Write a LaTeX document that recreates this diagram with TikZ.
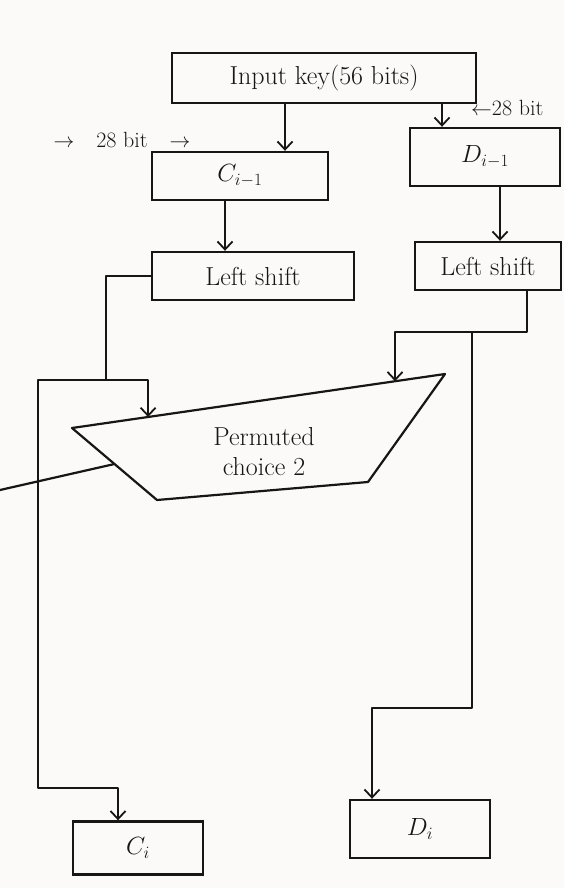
\documentclass[tikz,border=0pt]{standalone}
\usepackage{tikz}
\usetikzlibrary{arrows.meta,positioning,calc}
\definecolor{paper}{HTML}{FCFAF9}
\definecolor{pen}{HTML}{161616}
\tikzset{
  every picture/.append style={font=\fontsize{26}{30}\selectfont},
  kbox/.style  = {draw=pen, line width=2.4pt, inner sep=0pt, text=pen},
  wire/.style  = {draw=pen, line width=2.2pt, line join=round},
  arr/.style   = {wire, -{Straight Barb[length=8pt, width=15pt, line width=1.8pt]}},
  lab/.style   = {font=\fontsize{22}{26}\selectfont, text=pen, inner sep=1pt},
}
\begin{document}
\begin{tikzpicture}[x=1pt, y=-1pt]
  \fill[paper] (0,0) rectangle (564,888);
  \useasboundingbox (0,0) rectangle (564,888);
  % key and its two halves
  \node[kbox, minimum width=304pt, minimum height=50pt] (key)   at (324,78)  {Input key(56 bits)};
  \node[kbox, minimum width=176pt, minimum height=48pt] (cprev) at (240,176) {$C_{i-1}$};
  \node[kbox, minimum width=150pt, minimum height=58pt] (dprev) at (485,157) {$D_{i-1}$};
  \node[kbox, minimum width=202pt, minimum height=48pt] (lshl)  at (253,276) {Left shift};
  \node[kbox, minimum width=146pt, minimum height=48pt] (lshr)  at (488,266) {Left shift};
  \node[kbox, minimum width=130pt, minimum height=53pt] (ci)    at (138,848) {$C_i$};
  \node[kbox, minimum width=140pt, minimum height=58pt] (di)    at (420,829) {$D_i$};
  \node[lab] (bitl) at (122,140) {$\rightarrow$\quad 28 bit\quad$\rightarrow$};
  \node[lab, anchor=west] (bitr) at (470,108) {$\leftarrow$28 bit};
  % permuted choice 2
  \coordinate (pa) at (72,428);
  \coordinate (pb) at (445,374);
  \coordinate (pc) at (368,482);
  \coordinate (pd) at (157,500);
  \draw[wire] (pa) -- (pb) -- (pc) -- (pd) -- cycle;
  \node[text=pen, align=center] (pc2) at (264,452) {Permuted\\choice 2};
  \coordinate (pinl) at ($(pa)!0.204!(pb)$);
  \coordinate (pinr) at ($(pa)!0.866!(pb)$);
  \coordinate (jl) at (106,380);
  \coordinate (jr) at (472,332);
  \coordinate (kout) at (0,490);
  % connectors
  \draw[arr] (key.south -| 285,0) -- (285,0 |- cprev.north);
  \draw[arr] (key.south -| 442,0) -- (442,0 |- dprev.north);
  \draw[arr] (cprev.south -| 225,0) -- (225,0 |- lshl.north);
  \draw[arr] (dprev.south -| 500,0) -- (500,0 |- lshr.north);
  \draw[wire] (lshl.west) -| (jl);
  \draw[arr] (jl) -| (pinl);
  \draw[arr] (jl) -- (38,380) -- (38,788) -| (118,0 |- ci.north);
  \draw[wire] (lshr.south -| 527,0) |- (jr);
  \draw[arr] (jr) -| (pinr);
  \draw[arr] (jr) -- (472,708) -| (372,0 |- di.north);
  \draw[wire] ($(pa)!0.5!(pd)$) -- (kout);
\end{tikzpicture}
\end{document}
